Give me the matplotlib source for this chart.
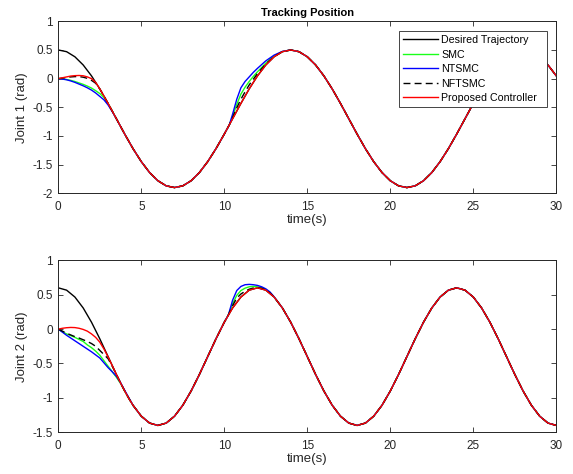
import numpy as np
import matplotlib
matplotlib.use("Agg")
import matplotlib.pyplot as plt

plt.rcParams['font.family'] = ['Liberation Sans', 'DejaVu Sans']

# ---------------- data ----------------
t_grid = np.arange(0, 30.01, 0.5)

desired_j1 = [0.500, 0.470, 0.381, 0.238, 0.048, -0.179, -0.433, -0.700, -0.967, -1.221, -1.448, -1.638, -1.781, -1.870, -1.900,
              -1.870, -1.781, -1.638, -1.448, -1.221, -0.967, -0.700, -0.433, -0.179, 0.048, 0.238, 0.381, 0.470, 0.500,
              0.470, 0.381, 0.238, 0.048, -0.179, -0.433, -0.700, -0.967, -1.221, -1.448, -1.638, -1.781, -1.870, -1.900,
              -1.870, -1.781, -1.638, -1.448, -1.221, -0.967, -0.700, -0.433, -0.179, 0.048, 0.238, 0.381, 0.470, 0.500,
              0.470, 0.381, 0.238, 0.048]

desired_j2 = [0.600, 0.566, 0.466, 0.307, 0.100, -0.141, -0.400, -0.659, -0.900, -1.107, -1.266, -1.366, -1.400,
              -1.366, -1.266, -1.107, -0.900, -0.659, -0.400, -0.141, 0.100, 0.307, 0.466, 0.566, 0.600,
              0.566, 0.466, 0.307, 0.100, -0.141, -0.400, -0.659, -0.900, -1.107, -1.266, -1.366, -1.400,
              -1.366, -1.266, -1.107, -0.900, -0.659, -0.400, -0.141, 0.100, 0.307, 0.466, 0.566, 0.600,
              0.566, 0.466, 0.307, 0.100, -0.141, -0.400, -0.659, -0.900, -1.107, -1.266, -1.366, -1.400]

# Joint 1 transients
t_j1_start = [0, 0.25, 0.5, 0.75, 1.0, 1.25, 1.5, 1.75, 2.0, 2.25, 2.5, 2.75, 3.0, 3.25]
smc_j1_start = [0, -0.005, -0.015, -0.03, -0.05, -0.075, -0.10, -0.13, -0.165, -0.21, -0.26, -0.33, -0.44, -0.566]
ntsmc_j1_start = [0, -0.008, -0.02, -0.04, -0.065, -0.095, -0.125, -0.16, -0.20, -0.25, -0.31, -0.37, -0.46, -0.575]
nftsmc_j1_start = [0, 0.01, 0.02, 0.03, 0.035, 0.035, 0.025, 0.005, -0.03, -0.08, -0.18, -0.304, -0.433, -0.566]
prop_j1_start = [0, 0.015, 0.03, 0.045, 0.052, 0.055, 0.05, 0.03, 0.0, -0.065, -0.179, -0.304, -0.433, -0.566]

t_j1_mid = [10.0, 10.3, 10.5, 10.75, 11.0, 11.25, 11.5, 11.75, 12.0, 12.5, 13.0, 13.5]
smc_j1_mid = [-0.967, -0.808, -0.66, -0.45, -0.27, -0.15, -0.05, 0.04, 0.12, 0.27, 0.395, 0.472]
ntsmc_j1_mid = [-0.967, -0.808, -0.62, -0.36, -0.16, -0.05, 0.03, 0.11, 0.18, 0.31, 0.41, 0.475]
nftsmc_j1_mid = [-0.967, -0.808, -0.68, -0.51, -0.36, -0.23, -0.11, -0.01, 0.09, 0.255, 0.385, 0.47]

# Joint 2 transients
t_j2_start = [0, 0.25, 0.5, 0.75, 1.0, 1.25, 1.5, 1.75, 2.0, 2.25, 2.5, 2.75, 3.0, 3.25, 3.5, 3.75, 4.0, 4.25, 4.5]
smc_j2_start = [0, -0.04, -0.07, -0.095, -0.12, -0.15, -0.18, -0.23, -0.27, -0.32, -0.38, -0.46, -0.54, -0.62, -0.70, -0.79, -0.90, -1.009, -1.107]
ntsmc_j2_start = [0, -0.045, -0.09, -0.13, -0.17, -0.21, -0.25, -0.29, -0.33, -0.375, -0.42, -0.49, -0.56, -0.62, -0.685, -0.78, -0.89, -1.0, -1.107]
nftsmc_j2_start = [0, -0.03, -0.06, -0.085, -0.11, -0.13, -0.155, -0.18, -0.21, -0.25, -0.31, -0.37, -0.43, -0.54, -0.659, -0.783, -0.90, -1.009, -1.107]
prop_j2_start = [0, 0.012, 0.02, 0.024, 0.022, 0.012, -0.005, -0.03, -0.07, -0.12, -0.19, -0.29, -0.405, -0.531, -0.659, -0.783, -0.90, -1.009, -1.107]

t_j2_mid = [10.0, 10.25, 10.5, 10.75, 11.0, 11.25, 11.5, 11.75, 12.0, 12.25, 12.5, 12.75, 13.0]
smc_j2_mid = [0.1, 0.209, 0.37, 0.49, 0.56, 0.595, 0.615, 0.62, 0.615, 0.60, 0.575, 0.53, 0.468]
ntsmc_j2_mid = [0.1, 0.209, 0.42, 0.56, 0.62, 0.645, 0.65, 0.645, 0.635, 0.615, 0.585, 0.54, 0.47]
nftsmc_j2_mid = [0.1, 0.209, 0.34, 0.45, 0.51, 0.55, 0.58, 0.597, 0.602, 0.593, 0.568, 0.525, 0.466]

labels = ['Desired Trajectory', 'SMC', 'NTSMC', 'NFTSMC', 'Proposed Controller']
colors = ['black', '#1aff1a', '#0000ff', 'black', '#ff0000']
styles = ['-', '-', '-', '--', '-']


def merge(t_base, y_base, segments):
    t = np.asarray(t_base, float)
    y = np.asarray(y_base, float)
    for ts, ys in segments:
        ts = np.asarray(ts, float)
        ys = np.asarray(ys, float)
        mask = (t < ts[0]) | (t > ts[-1])
        t = np.concatenate([t[mask], ts])
        y = np.concatenate([y[mask], ys])
        order = np.argsort(t)
        t, y = t[order], y[order]
    return t, y


j1 = [
    (t_grid, np.asarray(desired_j1)),
    merge(t_grid, desired_j1, [(t_j1_start, smc_j1_start), (t_j1_mid, smc_j1_mid)]),
    merge(t_grid, desired_j1, [(t_j1_start, ntsmc_j1_start), (t_j1_mid, ntsmc_j1_mid)]),
    merge(t_grid, desired_j1, [(t_j1_start, nftsmc_j1_start), (t_j1_mid, nftsmc_j1_mid)]),
    merge(t_grid, desired_j1, [(t_j1_start, prop_j1_start)]),
]
j2 = [
    (t_grid, np.asarray(desired_j2)),
    merge(t_grid, desired_j2, [(t_j2_start, smc_j2_start), (t_j2_mid, smc_j2_mid)]),
    merge(t_grid, desired_j2, [(t_j2_start, ntsmc_j2_start), (t_j2_mid, ntsmc_j2_mid)]),
    merge(t_grid, desired_j2, [(t_j2_start, nftsmc_j2_start), (t_j2_mid, nftsmc_j2_mid)]),
    merge(t_grid, desired_j2, [(t_j2_start, prop_j2_start)]),
]

y1_ticks = [-2, -1.5, -1, -0.5, 0, 0.5, 1]
y1_ticklabels = ['-2', '-1.5', '-1', '-0.5', '0', '0.5', '1']
y2_ticks = [-1.5, -1, -0.5, 0, 0.5, 1]
y2_ticklabels = ['-1.5', '-1', '-0.5', '0', '0.5', '1']
x_ticks = [0, 5, 10, 15, 20, 25, 30]
x_ticklabels = ['0', '5', '10', '15', '20', '25', '30']

# ---------------- figure ----------------
fig = plt.figure(figsize=(5.73, 4.74), dpi=100)
W, H = 573, 474
ax1 = fig.add_axes([58.3 / W, 1 - 193.3 / H, 498 / W, 172 / H])
ax2 = fig.add_axes([58.3 / W, 1 - 432.3 / H, 498 / W, 172 / H])

tick_fs = 8.5
lab_fs = 9.5
for ax, series, yt, ytl, ylim, ylabel in [
        (ax1, j1, y1_ticks, y1_ticklabels, (-2, 1), 'Joint 1 (rad)'),
        (ax2, j2, y2_ticks, y2_ticklabels, (-1.5, 1), 'Joint 2 (rad)')]:
    for (tt, yy), lab, c, ls in zip(series, labels, colors, styles):
        ax.plot(tt, yy, color=c, linestyle=ls, linewidth=1.0, label=lab,
                dashes=(5, 3) if ls == '--' else (None, None))
    ax.set_xlim(0, 30)
    ax.set_ylim(*ylim)
    ax.set_xticks(x_ticks)
    ax.set_xticklabels(x_ticklabels)
    ax.set_yticks(yt)
    ax.set_yticklabels(ytl)
    ax.tick_params(direction='in', length=3.5, width=0.6, top=True, right=True,
                   labelsize=tick_fs, colors='#262626')
    ax.tick_params(axis='x', pad=5.5)
    ax.tick_params(axis='y', pad=4)
    for sp in ax.spines.values():
        sp.set_linewidth(0.7)
        sp.set_color('#262626')
    ax.set_xlabel('time(s)', fontsize=lab_fs, color='#262626', labelpad=1)
    ax.set_ylabel(ylabel, fontsize=lab_fs, color='#262626', labelpad=3)

ax1.set_title('Tracking Position', fontsize=8, fontweight='bold', pad=4)

leg = ax1.legend(loc='upper left', bbox_to_anchor=(0.684, 0.0, 0.297, 0.944), mode='expand',
                 fontsize=7.65, frameon=True, fancybox=False, edgecolor='#262626', framealpha=1,
                 borderpad=0.4, labelspacing=0.42, handlelength=3.3, handletextpad=0.3,
                 borderaxespad=0)
leg.get_frame().set_linewidth(0.6)

fig.savefig('out.png', dpi=100)
